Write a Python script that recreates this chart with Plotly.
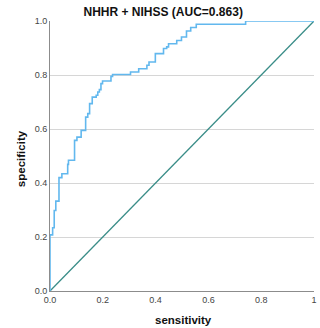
import plotly.graph_objects as go

# ROC step vertices (x = axis "sensitivity", y = axis "specificity")
roc_x = [0.0, 0.0, 0.010, 0.016, 0.022, 0.034, 0.045, 0.067, 0.070, 0.093, 0.102,
         0.118, 0.135, 0.143, 0.150, 0.160, 0.175, 0.181, 0.187, 0.193, 0.199,
         0.231, 0.237, 0.305, 0.336, 0.367, 0.375, 0.399, 0.430, 0.442, 0.449,
         0.480, 0.498, 0.517, 0.533, 0.554, 0.741, 1.0]
roc_y = [0.0, 0.208, 0.234, 0.298, 0.333, 0.420, 0.434, 0.469, 0.484, 0.558, 0.570,
         0.595, 0.644, 0.657, 0.694, 0.718, 0.725, 0.737, 0.746, 0.768, 0.778,
         0.795, 0.802, 0.811, 0.823, 0.836, 0.848, 0.879, 0.898, 0.904, 0.916,
         0.928, 0.941, 0.963, 0.976, 0.988, 1.0, 1.0]
ref_x = [0.0, 1.0]
ref_y = [0.0, 1.0]

tick_vals = [0.0, 0.2, 0.4, 0.6, 0.8, 1.0]
x_tick_text = ["0.0", "0.2", "0.4", "0.6", "0.8", "1"]
y_tick_text = ["0.0", "0.2", "0.4", "0.6", "0.8", "1.0"]

title_text = "NHHR + NIHSS (AUC=0.863)"
x_title = "sensitivity"
y_title = "specificity"

fig = go.Figure()
fig.add_trace(go.Scatter(x=ref_x, y=ref_y, mode="lines",
                         line=dict(color="#3a8d88", width=1.3), hoverinfo="skip"))
fig.add_trace(go.Scatter(x=roc_x, y=roc_y, mode="lines", line_shape="hv",
                         line=dict(color="#62b8ee", width=1.6), hoverinfo="skip"))

font_fam = "Liberation Sans, Arial, sans-serif"
fig.update_layout(
    width=320, height=328,
    margin=dict(l=50, r=3, t=21, b=37),
    paper_bgcolor="white", plot_bgcolor="white",
    showlegend=False,
    font=dict(family=font_fam),
    title=dict(text="<b>" + title_text + "</b>", x=0.51, xanchor="center",
               y=1 - 12 / 328, yanchor="middle", yref="container",
               font=dict(size=12, color="#111111", family=font_fam)),
    xaxis=dict(range=[0, 1], tickvals=tick_vals, ticktext=x_tick_text,
               showgrid=False, zeroline=False, showline=True, linecolor="#8c8c8c",
               linewidth=1, ticks="", tickfont=dict(size=9, color="#444444"),
               ticklabeloverflow="allow", fixedrange=True),
    yaxis=dict(range=[0, 1], tickvals=tick_vals, ticktext=y_tick_text,
               showgrid=True, gridcolor="#d6d6d6", gridwidth=1,
               zeroline=False, showline=True, linecolor="#8c8c8c",
               linewidth=1, ticks="", tickfont=dict(size=9, color="#444444"),
               fixedrange=True),
    annotations=[
        dict(text="<b>" + x_title + "</b>", xref="paper", yref="paper",
             x=0.506, y=-0.109, xanchor="center", yanchor="middle",
             showarrow=False, font=dict(size=11.5, color="#111111")),
        dict(text="<b>" + y_title + "</b>", xref="paper", yref="paper",
             x=-0.112, y=0.49, xanchor="center", yanchor="middle",
             textangle=-90, showarrow=False, font=dict(size=11.5, color="#111111")),
    ],
)

fig.write_html("out.html", config={"displayModeBar": False},
               post_script="document.body.style.margin='0px';document.body.style.overflow='hidden';")
